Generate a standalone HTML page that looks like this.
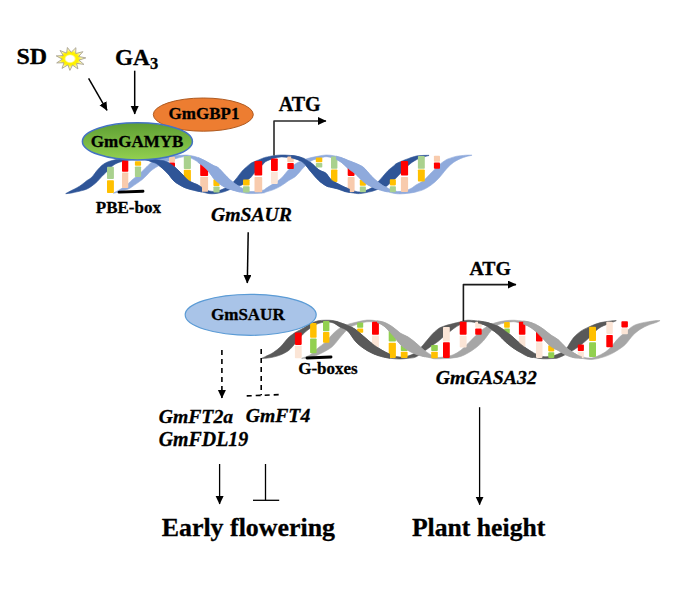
<!DOCTYPE html>
<html><head><meta charset="utf-8"><style>
html,body{margin:0;padding:0;background:#fff;}
svg{display:block;}
text{font-family:"Liberation Serif",serif;font-weight:bold;fill:#000;stroke:#000;stroke-width:0.3px;}
.i{font-style:italic;}
</style></head><body>
<svg width="684" height="604" viewBox="0 0 684 604">
<defs>
<marker id="ah" markerWidth="9" markerHeight="9" refX="8" refY="4" orient="auto" markerUnits="userSpaceOnUse">
<path d="M0,0 L8.5,4 L0,8 Z" fill="#000"/></marker>
<radialGradient id="sg" cx="0.47" cy="0.49" r="0.5"><stop offset="0.27" stop-color="#FFFFFF"/><stop offset="0.4" stop-color="#FFF200"/><stop offset="0.55" stop-color="#FFF000"/><stop offset="0.75" stop-color="#FFF89A"/><stop offset="1" stop-color="#FFFDE0"/></radialGradient>
<linearGradient id="gg" x1="0" y1="0" x2="0" y2="1"><stop offset="0" stop-color="#5E9E33"/><stop offset="1" stop-color="#92D050"/></linearGradient>
</defs>
<rect width="684" height="604" fill="#fff"/>
<path d="M65.80,193.50 C66.83,192.95 70.13,191.17 72.00,190.20 C73.87,189.23 75.33,188.65 77.00,187.70 C78.67,186.75 80.33,185.70 82.00,184.50 C83.67,183.30 85.33,181.75 87.00,180.50 C88.67,179.25 90.33,178.67 92.00,177.00 C93.67,175.33 95.33,172.45 97.00,170.50 C98.67,168.55 100.33,166.68 102.00,165.30 C103.67,163.92 105.00,163.08 107.00,162.20 C109.00,161.32 111.50,160.62 114.00,160.00 C116.50,159.38 118.50,159.07 122.00,158.50 C125.50,157.93 131.17,156.88 135.00,156.60 C138.83,156.32 142.17,156.43 145.00,156.80 C147.83,157.17 150.00,158.30 152.00,158.80 C154.00,159.30 155.00,159.47 157.00,159.80 C159.00,160.13 162.00,160.25 164.00,160.80 C166.00,161.35 167.33,162.17 169.00,163.10 C170.67,164.03 172.33,165.08 174.00,166.40 C175.67,167.72 177.33,169.40 179.00,171.00 C180.67,172.60 182.50,174.50 184.00,176.00 C185.50,177.50 186.67,178.92 188.00,180.00 C189.33,181.08 190.50,181.75 192.00,182.50 C193.50,183.25 195.33,183.68 197.00,184.50 C198.67,185.32 200.33,186.45 202.00,187.40 C203.67,188.35 205.33,189.53 207.00,190.20 C208.67,190.87 210.17,191.27 212.00,191.40 C213.83,191.53 216.00,191.47 218.00,191.00 C220.00,190.53 222.02,189.52 224.00,188.60 C225.98,187.68 227.92,187.08 229.90,185.50 C231.88,183.92 233.88,181.48 235.90,179.10 C237.92,176.72 240.28,173.18 242.00,171.20 C243.72,169.22 244.82,168.45 246.20,167.20 C247.58,165.95 248.92,164.63 250.30,163.70 C251.68,162.77 252.40,162.52 254.50,161.60 C256.60,160.68 260.98,158.93 262.90,158.20 C264.82,157.47 264.22,157.62 266.00,157.20 C267.78,156.78 271.07,156.07 273.60,155.70 C276.13,155.33 278.67,155.07 281.20,155.00 C283.73,154.93 286.33,155.12 288.80,155.30 C291.27,155.48 293.53,155.58 296.00,156.10 C298.47,156.62 301.07,157.25 303.60,158.40 C306.13,159.55 308.67,161.10 311.20,163.00 C313.73,164.90 316.33,168.08 318.80,169.80 C321.27,171.52 323.97,171.65 326.00,173.30 C328.03,174.95 329.10,178.00 331.00,179.70 C332.90,181.40 335.07,182.23 337.40,183.50 C339.73,184.77 342.57,186.22 345.00,187.30 C347.43,188.38 349.53,189.23 352.00,190.00 C354.47,190.77 356.60,192.22 359.80,191.90 C363.00,191.58 368.03,189.92 371.20,188.10 C374.37,186.28 376.33,183.55 378.80,181.00 C381.27,178.45 384.17,174.80 386.00,172.80 C387.83,170.80 388.53,170.13 389.80,169.00 C391.07,167.87 392.33,167.00 393.60,166.00 C394.87,165.00 394.87,164.27 397.40,163.00 C399.93,161.73 405.70,159.55 408.80,158.40 C411.90,157.25 413.80,156.58 416.00,156.10 C418.20,155.62 419.83,155.63 422.00,155.50 C424.17,155.37 427.83,155.33 429.00,155.30 L429.00,155.50 C427.83,155.83 424.17,156.77 422.00,157.50 C419.83,158.23 418.20,158.65 416.00,159.90 C413.80,161.15 411.90,162.20 408.80,165.00 C405.70,167.80 399.93,174.12 397.40,176.70 C394.87,179.28 394.87,179.37 393.60,180.50 C392.33,181.63 391.07,182.48 389.80,183.50 C388.53,184.52 387.83,185.68 386.00,186.60 C384.17,187.52 381.27,188.18 378.80,189.00 C376.33,189.82 374.37,190.73 371.20,191.50 C368.03,192.27 363.00,193.38 359.80,193.60 C356.60,193.82 354.47,193.15 352.00,192.80 C349.53,192.45 347.43,192.17 345.00,191.50 C342.57,190.83 339.73,189.50 337.40,188.80 C335.07,188.10 332.90,187.80 331.00,187.30 C329.10,186.80 328.03,186.93 326.00,185.80 C323.97,184.67 321.27,182.78 318.80,180.50 C316.33,178.22 313.73,175.02 311.20,172.10 C308.67,169.18 306.13,165.18 303.60,163.00 C301.07,160.82 298.47,159.90 296.00,159.00 C293.53,158.10 291.27,157.95 288.80,157.60 C286.33,157.25 283.73,156.77 281.20,156.90 C278.67,157.03 276.13,157.65 273.60,158.40 C271.07,159.15 267.78,160.40 266.00,161.40 C264.22,162.40 264.82,162.47 262.90,164.40 C260.98,166.33 256.60,170.73 254.50,173.00 C252.40,175.27 251.68,176.67 250.30,178.00 C248.92,179.33 247.58,179.83 246.20,181.00 C244.82,182.17 243.72,184.08 242.00,185.00 C240.28,185.92 237.92,185.75 235.90,186.50 C233.88,187.25 231.88,188.62 229.90,189.50 C227.92,190.38 225.98,191.18 224.00,191.80 C222.02,192.42 220.00,192.87 218.00,193.20 C216.00,193.53 213.83,193.80 212.00,193.80 C210.17,193.80 208.67,193.50 207.00,193.20 C205.33,192.90 203.67,192.37 202.00,192.00 C200.33,191.63 198.67,191.37 197.00,191.00 C195.33,190.63 193.50,190.18 192.00,189.80 C190.50,189.42 189.33,189.12 188.00,188.70 C186.67,188.28 185.50,188.00 184.00,187.30 C182.50,186.60 180.67,185.53 179.00,184.50 C177.33,183.47 175.67,182.70 174.00,181.10 C172.33,179.50 170.67,176.78 169.00,174.90 C167.33,173.02 166.00,171.62 164.00,169.80 C162.00,167.98 159.00,165.30 157.00,164.00 C155.00,162.70 154.00,162.75 152.00,162.00 C150.00,161.25 147.83,159.97 145.00,159.50 C142.17,159.03 138.83,158.87 135.00,159.20 C131.17,159.53 125.50,160.57 122.00,161.50 C118.50,162.43 116.50,163.15 114.00,164.80 C111.50,166.45 109.00,169.48 107.00,171.40 C105.00,173.32 103.67,174.57 102.00,176.30 C100.33,178.03 98.67,180.20 97.00,181.80 C95.33,183.40 93.67,184.70 92.00,185.90 C90.33,187.10 88.67,188.22 87.00,189.00 C85.33,189.78 83.67,190.13 82.00,190.60 C80.33,191.07 78.67,191.42 77.00,191.80 C75.33,192.18 73.87,192.58 72.00,192.90 C70.13,193.22 66.83,193.57 65.80,193.70Z" fill="#2F5597" stroke="#2F5597" stroke-width="0.6"/>
<path d="M113.60,193.00 C115.00,192.22 119.55,189.88 122.00,188.30 C124.45,186.72 126.63,184.88 128.30,183.50 C129.97,182.12 130.55,181.25 132.00,180.00 C133.45,178.75 135.33,177.43 137.00,176.00 C138.67,174.57 140.33,172.98 142.00,171.40 C143.67,169.82 145.33,168.08 147.00,166.50 C148.67,164.92 149.83,163.23 152.00,161.90 C154.17,160.57 157.00,159.48 160.00,158.50 C163.00,157.52 166.33,156.53 170.00,156.00 C173.67,155.47 179.00,155.43 182.00,155.30 C185.00,155.17 186.00,155.03 188.00,155.20 C190.00,155.37 192.17,155.85 194.00,156.30 C195.83,156.75 197.33,157.25 199.00,157.90 C200.67,158.55 202.33,159.35 204.00,160.20 C205.67,161.05 207.33,162.07 209.00,163.00 C210.67,163.93 212.50,165.03 214.00,165.80 C215.50,166.57 216.33,166.28 218.00,167.60 C219.67,168.92 222.02,171.68 224.00,173.70 C225.98,175.72 227.92,177.92 229.90,179.70 C231.88,181.48 233.88,183.02 235.90,184.40 C237.92,185.78 239.65,186.82 242.00,188.00 C244.35,189.18 246.52,191.13 250.00,191.50 C253.48,191.87 260.23,190.73 262.90,190.20 C265.57,189.67 264.22,189.42 266.00,188.30 C267.78,187.18 271.07,185.18 273.60,183.50 C276.13,181.82 278.67,180.53 281.20,178.20 C283.73,175.87 286.33,171.95 288.80,169.50 C291.27,167.05 293.53,165.10 296.00,163.50 C298.47,161.90 301.07,160.88 303.60,159.90 C306.13,158.92 308.67,158.23 311.20,157.60 C313.73,156.97 316.33,156.53 318.80,156.10 C321.27,155.67 323.53,155.07 326.00,155.00 C328.47,154.93 331.07,155.27 333.60,155.70 C336.13,156.13 338.67,156.77 341.20,157.60 C343.73,158.43 346.33,159.72 348.80,160.70 C351.27,161.68 353.53,162.37 356.00,163.50 C358.47,164.63 361.07,165.43 363.60,167.50 C366.13,169.57 368.67,173.37 371.20,175.90 C373.73,178.43 376.33,180.80 378.80,182.70 C381.27,184.60 382.90,185.83 386.00,187.30 C389.10,188.77 393.60,191.13 397.40,191.50 C401.20,191.87 405.70,190.58 408.80,189.50 C411.90,188.42 413.53,186.50 416.00,185.00 C418.47,183.50 421.07,182.53 423.60,180.50 C426.13,178.47 428.67,175.35 431.20,172.80 C433.73,170.25 436.33,167.35 438.80,165.20 C441.27,163.05 443.97,161.12 446.00,159.90 C448.03,158.68 449.35,158.48 451.00,157.90 C452.65,157.32 454.25,156.77 455.90,156.40 C457.55,156.03 459.23,155.90 460.90,155.70 C462.57,155.50 464.08,155.30 465.90,155.20 C467.72,155.10 470.82,155.12 471.80,155.10 L471.80,155.30 C470.82,155.53 467.72,156.18 465.90,156.70 C464.08,157.22 462.57,157.70 460.90,158.40 C459.23,159.10 457.55,159.90 455.90,160.90 C454.25,161.90 452.65,162.97 451.00,164.40 C449.35,165.83 448.03,167.20 446.00,169.50 C443.97,171.80 441.27,175.62 438.80,178.20 C436.33,180.78 433.73,183.10 431.20,185.00 C428.67,186.90 426.13,188.45 423.60,189.60 C421.07,190.75 418.47,191.30 416.00,191.90 C413.53,192.50 411.90,192.88 408.80,193.20 C405.70,193.52 401.20,194.08 397.40,193.80 C393.60,193.52 389.10,192.20 386.00,191.50 C382.90,190.80 381.27,190.42 378.80,189.60 C376.33,188.78 373.73,187.87 371.20,186.60 C368.67,185.33 366.13,184.03 363.60,182.00 C361.07,179.97 358.47,176.57 356.00,174.40 C353.53,172.23 351.27,171.03 348.80,169.00 C346.33,166.97 343.73,163.97 341.20,162.20 C338.67,160.43 336.13,159.32 333.60,158.40 C331.07,157.48 328.47,156.68 326.00,156.70 C323.53,156.72 321.27,157.80 318.80,158.50 C316.33,159.20 313.73,159.40 311.20,160.90 C308.67,162.40 306.13,164.98 303.60,167.50 C301.07,170.02 298.47,173.83 296.00,176.00 C293.53,178.17 291.27,178.87 288.80,180.50 C286.33,182.13 283.73,184.28 281.20,185.80 C278.67,187.32 276.13,188.57 273.60,189.60 C271.07,190.63 267.78,191.43 266.00,192.00 C264.22,192.57 265.57,192.73 262.90,193.00 C260.23,193.27 253.48,193.68 250.00,193.60 C246.52,193.52 244.35,192.93 242.00,192.50 C239.65,192.07 237.92,191.55 235.90,191.00 C233.88,190.45 231.88,189.90 229.90,189.20 C227.92,188.50 225.98,187.90 224.00,186.80 C222.02,185.70 219.67,183.93 218.00,182.60 C216.33,181.27 215.50,180.57 214.00,178.80 C212.50,177.03 210.67,173.97 209.00,172.00 C207.33,170.03 205.67,168.50 204.00,167.00 C202.33,165.50 200.67,164.23 199.00,163.00 C197.33,161.77 195.83,160.60 194.00,159.60 C192.17,158.60 190.00,157.43 188.00,157.00 C186.00,156.57 185.00,156.42 182.00,157.00 C179.00,157.58 173.67,159.17 170.00,160.50 C166.33,161.83 163.00,163.42 160.00,165.00 C157.00,166.58 154.17,168.33 152.00,170.00 C149.83,171.67 148.67,173.38 147.00,175.00 C145.33,176.62 143.67,178.32 142.00,179.70 C140.33,181.08 138.67,182.12 137.00,183.30 C135.33,184.48 133.45,185.85 132.00,186.80 C130.55,187.75 129.97,188.30 128.30,189.00 C126.63,189.70 124.45,190.28 122.00,191.00 C119.55,191.72 115.00,192.92 113.60,193.30Z" fill="#8FAADC" stroke="#8FAADC" stroke-width="0.6"/>
<rect x="107.0" y="166.8" width="6.9" height="12.2" rx="0.8" fill="#A9D18E"/>
<rect x="107.0" y="180.2" width="6.9" height="12.8" rx="0.8" fill="#FFC000"/>
<rect x="122.0" y="160.6" width="6.3" height="11.1" rx="0.8" fill="#FF0000"/>
<rect x="122.0" y="172.4" width="6.3" height="15.7" rx="0.8" fill="#F8CBAD"/>
<rect x="134.9" y="161.3" width="6.2" height="4.5" rx="0.8" fill="#FFC000"/>
<rect x="134.9" y="166.5" width="6.2" height="10.5" rx="0.8" fill="#A9D18E"/>
<rect x="169.0" y="156.8" width="6.0" height="5.2" rx="0.8" fill="#F8CBAD"/>
<rect x="169.0" y="162.4" width="6.0" height="4.6" rx="0.8" fill="#FF0000"/>
<rect x="183.8" y="155.9" width="7.1" height="13.1" rx="0.8" fill="#A9D18E"/>
<rect x="183.8" y="169.7" width="7.1" height="12.0" rx="0.8" fill="#FFC000"/>
<rect x="200.2" y="163.9" width="7.9" height="12.1" rx="0.8" fill="#FF0000"/>
<rect x="200.2" y="176.8" width="7.9" height="15.0" rx="0.8" fill="#F8CBAD"/>
<rect x="213.4" y="179.2" width="6.2" height="6.8" rx="0.8" fill="#FFC000"/>
<rect x="213.4" y="186.4" width="6.2" height="6.1" rx="0.8" fill="#A9D18E"/>
<rect x="243.0" y="179.4" width="6.6" height="6.2" rx="0.8" fill="#FFC000"/>
<rect x="243.0" y="186.3" width="6.6" height="6.3" rx="0.8" fill="#A9D18E"/>
<rect x="254.5" y="161.0" width="7.7" height="14.6" rx="0.8" fill="#FF0000"/>
<rect x="254.5" y="177.0" width="7.7" height="15.2" rx="0.8" fill="#F8CBAD"/>
<rect x="271.0" y="158.4" width="6.8" height="12.5" rx="0.8" fill="#FF0000"/>
<rect x="271.0" y="171.7" width="6.8" height="12.2" rx="0.8" fill="#FBE5D6"/>
<rect x="287.3" y="156.5" width="6.5" height="5.7" rx="0.8" fill="#F8CBAD"/>
<rect x="287.3" y="163.0" width="6.5" height="6.0" rx="0.8" fill="#FF0000"/>
<rect x="315.8" y="157.6" width="6.5" height="4.6" rx="0.8" fill="#FFC000"/>
<rect x="315.8" y="163.0" width="6.5" height="4.5" rx="0.8" fill="#A9D18E"/>
<rect x="331.0" y="156.5" width="6.4" height="12.2" rx="0.8" fill="#A9D18E"/>
<rect x="331.0" y="169.4" width="6.4" height="12.6" rx="0.8" fill="#FFC000"/>
<rect x="347.7" y="164.9" width="6.9" height="11.0" rx="0.8" fill="#FF0000"/>
<rect x="347.7" y="177.0" width="6.9" height="14.9" rx="0.8" fill="#F8CBAD"/>
<rect x="359.8" y="179.7" width="6.1" height="6.1" rx="0.8" fill="#FFC000"/>
<rect x="359.8" y="186.6" width="6.1" height="5.7" rx="0.8" fill="#A9D18E"/>
<rect x="389.8" y="179.3" width="6.1" height="6.1" rx="0.8" fill="#FFC000"/>
<rect x="389.8" y="186.2" width="6.1" height="6.1" rx="0.8" fill="#A9D18E"/>
<rect x="400.9" y="161.0" width="7.2" height="14.5" rx="0.8" fill="#FF0000"/>
<rect x="400.9" y="177.0" width="7.2" height="14.9" rx="0.8" fill="#F8CBAD"/>
<rect x="417.9" y="156.1" width="6.9" height="12.6" rx="0.8" fill="#A9D18E"/>
<rect x="417.9" y="169.4" width="6.9" height="12.2" rx="0.8" fill="#FFC000"/>
<rect x="433.9" y="155.7" width="6.1" height="6.1" rx="0.8" fill="#F8CBAD"/>
<rect x="433.9" y="162.6" width="6.1" height="6.1" rx="0.8" fill="#FF0000"/>
<clipPath id="c1"><rect x="145.0" y="0" width="57.0" height="604"/><rect x="291.2" y="0" width="58.6" height="604"/></clipPath><path d="M65.80,193.50 C66.83,192.95 70.13,191.17 72.00,190.20 C73.87,189.23 75.33,188.65 77.00,187.70 C78.67,186.75 80.33,185.70 82.00,184.50 C83.67,183.30 85.33,181.75 87.00,180.50 C88.67,179.25 90.33,178.67 92.00,177.00 C93.67,175.33 95.33,172.45 97.00,170.50 C98.67,168.55 100.33,166.68 102.00,165.30 C103.67,163.92 105.00,163.08 107.00,162.20 C109.00,161.32 111.50,160.62 114.00,160.00 C116.50,159.38 118.50,159.07 122.00,158.50 C125.50,157.93 131.17,156.88 135.00,156.60 C138.83,156.32 142.17,156.43 145.00,156.80 C147.83,157.17 150.00,158.30 152.00,158.80 C154.00,159.30 155.00,159.47 157.00,159.80 C159.00,160.13 162.00,160.25 164.00,160.80 C166.00,161.35 167.33,162.17 169.00,163.10 C170.67,164.03 172.33,165.08 174.00,166.40 C175.67,167.72 177.33,169.40 179.00,171.00 C180.67,172.60 182.50,174.50 184.00,176.00 C185.50,177.50 186.67,178.92 188.00,180.00 C189.33,181.08 190.50,181.75 192.00,182.50 C193.50,183.25 195.33,183.68 197.00,184.50 C198.67,185.32 200.33,186.45 202.00,187.40 C203.67,188.35 205.33,189.53 207.00,190.20 C208.67,190.87 210.17,191.27 212.00,191.40 C213.83,191.53 216.00,191.47 218.00,191.00 C220.00,190.53 222.02,189.52 224.00,188.60 C225.98,187.68 227.92,187.08 229.90,185.50 C231.88,183.92 233.88,181.48 235.90,179.10 C237.92,176.72 240.28,173.18 242.00,171.20 C243.72,169.22 244.82,168.45 246.20,167.20 C247.58,165.95 248.92,164.63 250.30,163.70 C251.68,162.77 252.40,162.52 254.50,161.60 C256.60,160.68 260.98,158.93 262.90,158.20 C264.82,157.47 264.22,157.62 266.00,157.20 C267.78,156.78 271.07,156.07 273.60,155.70 C276.13,155.33 278.67,155.07 281.20,155.00 C283.73,154.93 286.33,155.12 288.80,155.30 C291.27,155.48 293.53,155.58 296.00,156.10 C298.47,156.62 301.07,157.25 303.60,158.40 C306.13,159.55 308.67,161.10 311.20,163.00 C313.73,164.90 316.33,168.08 318.80,169.80 C321.27,171.52 323.97,171.65 326.00,173.30 C328.03,174.95 329.10,178.00 331.00,179.70 C332.90,181.40 335.07,182.23 337.40,183.50 C339.73,184.77 342.57,186.22 345.00,187.30 C347.43,188.38 349.53,189.23 352.00,190.00 C354.47,190.77 356.60,192.22 359.80,191.90 C363.00,191.58 368.03,189.92 371.20,188.10 C374.37,186.28 376.33,183.55 378.80,181.00 C381.27,178.45 384.17,174.80 386.00,172.80 C387.83,170.80 388.53,170.13 389.80,169.00 C391.07,167.87 392.33,167.00 393.60,166.00 C394.87,165.00 394.87,164.27 397.40,163.00 C399.93,161.73 405.70,159.55 408.80,158.40 C411.90,157.25 413.80,156.58 416.00,156.10 C418.20,155.62 419.83,155.63 422.00,155.50 C424.17,155.37 427.83,155.33 429.00,155.30 L429.00,155.50 C427.83,155.83 424.17,156.77 422.00,157.50 C419.83,158.23 418.20,158.65 416.00,159.90 C413.80,161.15 411.90,162.20 408.80,165.00 C405.70,167.80 399.93,174.12 397.40,176.70 C394.87,179.28 394.87,179.37 393.60,180.50 C392.33,181.63 391.07,182.48 389.80,183.50 C388.53,184.52 387.83,185.68 386.00,186.60 C384.17,187.52 381.27,188.18 378.80,189.00 C376.33,189.82 374.37,190.73 371.20,191.50 C368.03,192.27 363.00,193.38 359.80,193.60 C356.60,193.82 354.47,193.15 352.00,192.80 C349.53,192.45 347.43,192.17 345.00,191.50 C342.57,190.83 339.73,189.50 337.40,188.80 C335.07,188.10 332.90,187.80 331.00,187.30 C329.10,186.80 328.03,186.93 326.00,185.80 C323.97,184.67 321.27,182.78 318.80,180.50 C316.33,178.22 313.73,175.02 311.20,172.10 C308.67,169.18 306.13,165.18 303.60,163.00 C301.07,160.82 298.47,159.90 296.00,159.00 C293.53,158.10 291.27,157.95 288.80,157.60 C286.33,157.25 283.73,156.77 281.20,156.90 C278.67,157.03 276.13,157.65 273.60,158.40 C271.07,159.15 267.78,160.40 266.00,161.40 C264.22,162.40 264.82,162.47 262.90,164.40 C260.98,166.33 256.60,170.73 254.50,173.00 C252.40,175.27 251.68,176.67 250.30,178.00 C248.92,179.33 247.58,179.83 246.20,181.00 C244.82,182.17 243.72,184.08 242.00,185.00 C240.28,185.92 237.92,185.75 235.90,186.50 C233.88,187.25 231.88,188.62 229.90,189.50 C227.92,190.38 225.98,191.18 224.00,191.80 C222.02,192.42 220.00,192.87 218.00,193.20 C216.00,193.53 213.83,193.80 212.00,193.80 C210.17,193.80 208.67,193.50 207.00,193.20 C205.33,192.90 203.67,192.37 202.00,192.00 C200.33,191.63 198.67,191.37 197.00,191.00 C195.33,190.63 193.50,190.18 192.00,189.80 C190.50,189.42 189.33,189.12 188.00,188.70 C186.67,188.28 185.50,188.00 184.00,187.30 C182.50,186.60 180.67,185.53 179.00,184.50 C177.33,183.47 175.67,182.70 174.00,181.10 C172.33,179.50 170.67,176.78 169.00,174.90 C167.33,173.02 166.00,171.62 164.00,169.80 C162.00,167.98 159.00,165.30 157.00,164.00 C155.00,162.70 154.00,162.75 152.00,162.00 C150.00,161.25 147.83,159.97 145.00,159.50 C142.17,159.03 138.83,158.87 135.00,159.20 C131.17,159.53 125.50,160.57 122.00,161.50 C118.50,162.43 116.50,163.15 114.00,164.80 C111.50,166.45 109.00,169.48 107.00,171.40 C105.00,173.32 103.67,174.57 102.00,176.30 C100.33,178.03 98.67,180.20 97.00,181.80 C95.33,183.40 93.67,184.70 92.00,185.90 C90.33,187.10 88.67,188.22 87.00,189.00 C85.33,189.78 83.67,190.13 82.00,190.60 C80.33,191.07 78.67,191.42 77.00,191.80 C75.33,192.18 73.87,192.58 72.00,192.90 C70.13,193.22 66.83,193.57 65.80,193.70Z" fill="#2F5597" stroke="#2F5597" stroke-width="0.6" clip-path="url(#c1)"/>
<clipPath id="c2"><rect x="198.0" y="0" width="42.0" height="604"/><rect x="336.0" y="0" width="51.4" height="604"/></clipPath><path d="M113.60,193.00 C115.00,192.22 119.55,189.88 122.00,188.30 C124.45,186.72 126.63,184.88 128.30,183.50 C129.97,182.12 130.55,181.25 132.00,180.00 C133.45,178.75 135.33,177.43 137.00,176.00 C138.67,174.57 140.33,172.98 142.00,171.40 C143.67,169.82 145.33,168.08 147.00,166.50 C148.67,164.92 149.83,163.23 152.00,161.90 C154.17,160.57 157.00,159.48 160.00,158.50 C163.00,157.52 166.33,156.53 170.00,156.00 C173.67,155.47 179.00,155.43 182.00,155.30 C185.00,155.17 186.00,155.03 188.00,155.20 C190.00,155.37 192.17,155.85 194.00,156.30 C195.83,156.75 197.33,157.25 199.00,157.90 C200.67,158.55 202.33,159.35 204.00,160.20 C205.67,161.05 207.33,162.07 209.00,163.00 C210.67,163.93 212.50,165.03 214.00,165.80 C215.50,166.57 216.33,166.28 218.00,167.60 C219.67,168.92 222.02,171.68 224.00,173.70 C225.98,175.72 227.92,177.92 229.90,179.70 C231.88,181.48 233.88,183.02 235.90,184.40 C237.92,185.78 239.65,186.82 242.00,188.00 C244.35,189.18 246.52,191.13 250.00,191.50 C253.48,191.87 260.23,190.73 262.90,190.20 C265.57,189.67 264.22,189.42 266.00,188.30 C267.78,187.18 271.07,185.18 273.60,183.50 C276.13,181.82 278.67,180.53 281.20,178.20 C283.73,175.87 286.33,171.95 288.80,169.50 C291.27,167.05 293.53,165.10 296.00,163.50 C298.47,161.90 301.07,160.88 303.60,159.90 C306.13,158.92 308.67,158.23 311.20,157.60 C313.73,156.97 316.33,156.53 318.80,156.10 C321.27,155.67 323.53,155.07 326.00,155.00 C328.47,154.93 331.07,155.27 333.60,155.70 C336.13,156.13 338.67,156.77 341.20,157.60 C343.73,158.43 346.33,159.72 348.80,160.70 C351.27,161.68 353.53,162.37 356.00,163.50 C358.47,164.63 361.07,165.43 363.60,167.50 C366.13,169.57 368.67,173.37 371.20,175.90 C373.73,178.43 376.33,180.80 378.80,182.70 C381.27,184.60 382.90,185.83 386.00,187.30 C389.10,188.77 393.60,191.13 397.40,191.50 C401.20,191.87 405.70,190.58 408.80,189.50 C411.90,188.42 413.53,186.50 416.00,185.00 C418.47,183.50 421.07,182.53 423.60,180.50 C426.13,178.47 428.67,175.35 431.20,172.80 C433.73,170.25 436.33,167.35 438.80,165.20 C441.27,163.05 443.97,161.12 446.00,159.90 C448.03,158.68 449.35,158.48 451.00,157.90 C452.65,157.32 454.25,156.77 455.90,156.40 C457.55,156.03 459.23,155.90 460.90,155.70 C462.57,155.50 464.08,155.30 465.90,155.20 C467.72,155.10 470.82,155.12 471.80,155.10 L471.80,155.30 C470.82,155.53 467.72,156.18 465.90,156.70 C464.08,157.22 462.57,157.70 460.90,158.40 C459.23,159.10 457.55,159.90 455.90,160.90 C454.25,161.90 452.65,162.97 451.00,164.40 C449.35,165.83 448.03,167.20 446.00,169.50 C443.97,171.80 441.27,175.62 438.80,178.20 C436.33,180.78 433.73,183.10 431.20,185.00 C428.67,186.90 426.13,188.45 423.60,189.60 C421.07,190.75 418.47,191.30 416.00,191.90 C413.53,192.50 411.90,192.88 408.80,193.20 C405.70,193.52 401.20,194.08 397.40,193.80 C393.60,193.52 389.10,192.20 386.00,191.50 C382.90,190.80 381.27,190.42 378.80,189.60 C376.33,188.78 373.73,187.87 371.20,186.60 C368.67,185.33 366.13,184.03 363.60,182.00 C361.07,179.97 358.47,176.57 356.00,174.40 C353.53,172.23 351.27,171.03 348.80,169.00 C346.33,166.97 343.73,163.97 341.20,162.20 C338.67,160.43 336.13,159.32 333.60,158.40 C331.07,157.48 328.47,156.68 326.00,156.70 C323.53,156.72 321.27,157.80 318.80,158.50 C316.33,159.20 313.73,159.40 311.20,160.90 C308.67,162.40 306.13,164.98 303.60,167.50 C301.07,170.02 298.47,173.83 296.00,176.00 C293.53,178.17 291.27,178.87 288.80,180.50 C286.33,182.13 283.73,184.28 281.20,185.80 C278.67,187.32 276.13,188.57 273.60,189.60 C271.07,190.63 267.78,191.43 266.00,192.00 C264.22,192.57 265.57,192.73 262.90,193.00 C260.23,193.27 253.48,193.68 250.00,193.60 C246.52,193.52 244.35,192.93 242.00,192.50 C239.65,192.07 237.92,191.55 235.90,191.00 C233.88,190.45 231.88,189.90 229.90,189.20 C227.92,188.50 225.98,187.90 224.00,186.80 C222.02,185.70 219.67,183.93 218.00,182.60 C216.33,181.27 215.50,180.57 214.00,178.80 C212.50,177.03 210.67,173.97 209.00,172.00 C207.33,170.03 205.67,168.50 204.00,167.00 C202.33,165.50 200.67,164.23 199.00,163.00 C197.33,161.77 195.83,160.60 194.00,159.60 C192.17,158.60 190.00,157.43 188.00,157.00 C186.00,156.57 185.00,156.42 182.00,157.00 C179.00,157.58 173.67,159.17 170.00,160.50 C166.33,161.83 163.00,163.42 160.00,165.00 C157.00,166.58 154.17,168.33 152.00,170.00 C149.83,171.67 148.67,173.38 147.00,175.00 C145.33,176.62 143.67,178.32 142.00,179.70 C140.33,181.08 138.67,182.12 137.00,183.30 C135.33,184.48 133.45,185.85 132.00,186.80 C130.55,187.75 129.97,188.30 128.30,189.00 C126.63,189.70 124.45,190.28 122.00,191.00 C119.55,191.72 115.00,192.92 113.60,193.30Z" fill="#8FAADC" stroke="#8FAADC" stroke-width="0.6" clip-path="url(#c2)"/>
<path d="M261.80,358.20 C262.43,357.90 263.70,357.33 265.60,356.40 C267.50,355.47 270.67,354.25 273.20,352.60 C275.73,350.95 278.33,348.92 280.80,346.50 C283.27,344.08 286.03,340.13 288.00,338.10 C289.97,336.07 291.10,335.40 292.60,334.30 C294.10,333.20 295.23,332.52 297.00,331.50 C298.77,330.48 301.40,329.27 303.20,328.20 C305.00,327.13 306.33,325.97 307.80,325.10 C309.27,324.23 310.30,323.72 312.00,323.00 C313.70,322.28 315.73,321.27 318.00,320.80 C320.27,320.33 323.07,320.23 325.60,320.20 C328.13,320.17 330.67,320.15 333.20,320.60 C335.73,321.05 338.33,322.07 340.80,322.90 C343.27,323.73 345.53,324.50 348.00,325.60 C350.47,326.70 353.07,327.77 355.60,329.50 C358.13,331.23 360.67,333.83 363.20,336.00 C365.73,338.17 368.33,340.53 370.80,342.50 C373.27,344.47 375.53,346.18 378.00,347.80 C380.47,349.42 383.07,350.92 385.60,352.20 C388.13,353.48 390.80,354.70 393.20,355.50 C395.60,356.30 397.53,356.92 400.00,357.00 C402.47,357.08 405.40,356.73 408.00,356.00 C410.60,355.27 413.07,354.45 415.60,352.60 C418.13,350.75 420.67,347.70 423.20,344.90 C425.73,342.10 428.33,338.45 430.80,335.80 C433.27,333.15 435.63,330.67 438.00,329.00 C440.37,327.33 442.47,326.70 445.00,325.80 C447.53,324.90 450.82,324.22 453.20,323.60 C455.58,322.98 456.83,322.67 459.30,322.10 C461.77,321.53 464.02,320.27 468.00,320.20 C471.98,320.13 479.40,321.13 483.20,321.70 C487.00,322.27 488.33,322.83 490.80,323.60 C493.27,324.37 495.53,325.03 498.00,326.30 C500.47,327.57 503.07,329.37 505.60,331.20 C508.13,333.03 510.67,335.13 513.20,337.30 C515.73,339.47 518.33,342.17 520.80,344.20 C523.27,346.23 525.63,347.95 528.00,349.50 C530.37,351.05 532.50,352.33 535.00,353.50 C537.50,354.67 540.33,356.03 543.00,356.50 C545.67,356.97 548.50,356.70 551.00,356.30 C553.50,355.90 555.57,355.23 558.00,354.10 C560.43,352.97 563.07,352.17 565.60,349.50 C568.13,346.83 570.67,341.15 573.20,338.10 C575.73,335.05 578.33,332.98 580.80,331.20 C583.27,329.42 585.28,328.67 588.00,327.40 C590.72,326.13 594.57,324.48 597.10,323.60 C599.63,322.72 600.92,322.53 603.20,322.10 C605.48,321.67 608.63,321.25 610.80,321.00 C612.97,320.75 615.30,320.67 616.20,320.60 L616.20,320.80 C615.30,321.15 612.97,322.05 610.80,322.90 C608.63,323.75 605.48,324.77 603.20,325.90 C600.92,327.03 599.63,327.55 597.10,329.70 C594.57,331.85 590.72,336.27 588.00,338.80 C585.28,341.33 583.27,342.98 580.80,344.90 C578.33,346.82 575.73,348.70 573.20,350.30 C570.67,351.90 568.13,353.23 565.60,354.50 C563.07,355.77 560.43,357.22 558.00,357.90 C555.57,358.58 553.50,358.45 551.00,358.60 C548.50,358.75 545.67,358.95 543.00,358.80 C540.33,358.65 537.50,358.10 535.00,357.70 C532.50,357.30 530.37,357.25 528.00,356.40 C525.63,355.55 523.27,354.00 520.80,352.60 C518.33,351.20 515.73,349.78 513.20,348.00 C510.67,346.22 508.13,344.18 505.60,341.90 C503.07,339.62 500.47,336.47 498.00,334.30 C495.53,332.13 493.27,330.55 490.80,328.90 C488.33,327.25 487.00,325.60 483.20,324.40 C479.40,323.20 471.98,321.58 468.00,321.70 C464.02,321.82 461.77,323.90 459.30,325.10 C456.83,326.30 455.58,327.17 453.20,328.90 C450.82,330.63 447.53,333.40 445.00,335.50 C442.47,337.60 440.37,339.67 438.00,341.50 C435.63,343.33 433.27,344.75 430.80,346.50 C428.33,348.25 425.73,350.23 423.20,352.00 C420.67,353.77 418.13,356.05 415.60,357.10 C413.07,358.15 410.60,357.98 408.00,358.30 C405.40,358.62 402.47,358.95 400.00,359.00 C397.53,359.05 395.60,358.85 393.20,358.60 C390.80,358.35 388.13,358.02 385.60,357.50 C383.07,356.98 380.47,356.33 378.00,355.50 C375.53,354.67 373.27,353.75 370.80,352.50 C368.33,351.25 365.73,349.83 363.20,348.00 C360.67,346.17 358.13,344.30 355.60,341.50 C353.07,338.70 350.47,333.55 348.00,331.20 C345.53,328.85 343.27,328.78 340.80,327.40 C338.33,326.02 335.73,323.78 333.20,322.90 C330.67,322.02 328.13,321.98 325.60,322.10 C323.07,322.22 320.27,322.78 318.00,323.60 C315.73,324.42 313.70,325.93 312.00,327.00 C310.30,328.07 309.27,328.83 307.80,330.00 C306.33,331.17 305.00,332.17 303.20,334.00 C301.40,335.83 298.77,338.92 297.00,341.00 C295.23,343.08 294.10,344.83 292.60,346.50 C291.10,348.17 289.97,349.62 288.00,351.00 C286.03,352.38 283.27,353.78 280.80,354.80 C278.33,355.82 275.73,356.52 273.20,357.10 C270.67,357.68 267.50,358.08 265.60,358.30 C263.70,358.52 262.43,358.38 261.80,358.40Z" fill="#595959" stroke="#595959" stroke-width="0.6"/>
<path d="M301.70,358.20 C303.08,357.67 307.28,356.70 310.00,355.00 C312.72,353.30 315.40,350.18 318.00,348.00 C320.60,345.82 323.07,344.32 325.60,341.90 C328.13,339.48 330.67,335.92 333.20,333.50 C335.73,331.08 338.33,328.92 340.80,327.40 C343.27,325.88 345.63,325.22 348.00,324.40 C350.37,323.58 351.83,323.22 355.00,322.50 C358.17,321.78 363.17,320.35 367.00,320.10 C370.83,319.85 374.90,320.53 378.00,321.00 C381.10,321.47 383.07,321.83 385.60,322.90 C388.13,323.97 390.67,325.63 393.20,327.40 C395.73,329.17 398.33,331.90 400.80,333.50 C403.27,335.10 405.53,335.47 408.00,337.00 C410.47,338.53 413.07,340.62 415.60,342.70 C418.13,344.78 420.67,347.48 423.20,349.50 C425.73,351.52 428.88,353.47 430.80,354.80 C432.72,356.13 432.33,357.17 434.70,357.50 C437.07,357.83 441.92,357.25 445.00,356.80 C448.08,356.35 450.57,355.88 453.20,354.80 C455.83,353.72 458.33,352.18 460.80,350.30 C463.27,348.42 465.53,345.92 468.00,343.50 C470.47,341.08 473.07,338.22 475.60,335.80 C478.13,333.38 480.67,330.90 483.20,329.00 C485.73,327.10 488.33,325.55 490.80,324.40 C493.27,323.25 495.63,322.70 498.00,322.10 C500.37,321.50 502.47,321.12 505.00,320.80 C507.53,320.48 510.70,320.20 513.20,320.20 C515.70,320.20 517.53,320.55 520.00,320.80 C522.47,321.05 525.40,321.10 528.00,321.70 C530.60,322.30 533.07,323.18 535.60,324.40 C538.13,325.62 540.67,327.23 543.20,329.00 C545.73,330.77 548.33,333.23 550.80,335.00 C553.27,336.77 555.53,337.57 558.00,339.60 C560.47,341.63 563.07,345.03 565.60,347.20 C568.13,349.37 570.67,351.07 573.20,352.60 C575.73,354.13 577.70,355.50 580.80,356.40 C583.90,357.30 588.07,358.52 591.80,358.00 C595.53,357.48 600.03,355.10 603.20,353.30 C606.37,351.50 608.33,349.67 610.80,347.20 C613.27,344.73 615.53,341.03 618.00,338.50 C620.47,335.97 623.07,334.10 625.60,332.00 C628.13,329.90 630.67,327.37 633.20,325.90 C635.73,324.43 638.25,323.90 640.80,323.20 C643.35,322.50 645.95,322.13 648.50,321.70 C651.05,321.27 654.20,320.78 656.10,320.60 C658.00,320.42 659.27,320.60 659.90,320.60 L659.90,320.80 C659.27,321.08 658.00,321.78 656.10,322.50 C654.20,323.22 651.05,324.03 648.50,325.10 C645.95,326.17 643.35,327.25 640.80,328.90 C638.25,330.55 635.73,332.45 633.20,335.00 C630.67,337.55 628.13,341.70 625.60,344.20 C623.07,346.70 620.47,348.35 618.00,350.00 C615.53,351.65 613.27,352.92 610.80,354.10 C608.33,355.28 606.37,356.20 603.20,357.10 C600.03,358.00 595.53,359.30 591.80,359.50 C588.07,359.70 583.90,358.63 580.80,358.30 C577.70,357.97 575.73,358.08 573.20,357.50 C570.67,356.92 568.13,356.00 565.60,354.80 C563.07,353.60 560.47,351.68 558.00,350.30 C555.53,348.92 553.27,348.42 550.80,346.50 C548.33,344.58 545.73,341.35 543.20,338.80 C540.67,336.25 538.13,333.35 535.60,331.20 C533.07,329.05 530.60,327.27 528.00,325.90 C525.40,324.53 522.47,323.70 520.00,323.00 C517.53,322.30 515.70,321.73 513.20,321.70 C510.70,321.67 507.53,322.23 505.00,322.80 C502.47,323.37 500.37,323.70 498.00,325.10 C495.63,326.50 493.27,328.53 490.80,331.20 C488.33,333.87 485.73,338.30 483.20,341.10 C480.67,343.90 478.13,346.02 475.60,348.00 C473.07,349.98 470.47,351.60 468.00,353.00 C465.53,354.40 463.27,355.58 460.80,356.40 C458.33,357.22 455.83,357.53 453.20,357.90 C450.57,358.27 448.08,358.45 445.00,358.60 C441.92,358.75 437.07,358.92 434.70,358.80 C432.33,358.68 432.72,358.30 430.80,357.90 C428.88,357.50 425.73,357.03 423.20,356.40 C420.67,355.77 418.13,355.12 415.60,354.10 C413.07,353.08 410.47,351.83 408.00,350.30 C405.53,348.77 403.27,347.32 400.80,344.90 C398.33,342.48 395.73,338.72 393.20,335.80 C390.67,332.88 388.13,329.55 385.60,327.40 C383.07,325.25 381.10,323.83 378.00,322.90 C374.90,321.97 370.83,321.43 367.00,321.80 C363.17,322.17 358.17,323.92 355.00,325.10 C351.83,326.28 350.37,326.98 348.00,328.90 C345.63,330.82 343.27,333.80 340.80,336.60 C338.33,339.40 335.73,343.30 333.20,345.70 C330.67,348.10 328.13,349.48 325.60,351.00 C323.07,352.52 320.60,353.67 318.00,354.80 C315.40,355.93 312.72,357.20 310.00,357.80 C307.28,358.40 303.08,358.30 301.70,358.40Z" fill="#A6A6A6" stroke="#A6A6A6" stroke-width="0.6"/>
<rect x="294.9" y="332.4" width="6.8" height="12.5" rx="0.8" fill="#FF0000"/>
<rect x="294.9" y="345.7" width="6.8" height="12.6" rx="0.8" fill="#FBE5D6"/>
<rect x="310.1" y="322.9" width="6.5" height="14.8" rx="0.8" fill="#FFC000"/>
<rect x="310.1" y="338.5" width="6.5" height="14.8" rx="0.8" fill="#92D050"/>
<rect x="323.0" y="321.0" width="6.4" height="10.2" rx="0.8" fill="#92D050"/>
<rect x="323.0" y="332.0" width="6.4" height="10.7" rx="0.8" fill="#FFC000"/>
<rect x="357.1" y="322.5" width="6.1" height="5.3" rx="0.8" fill="#92D050"/>
<rect x="357.1" y="328.6" width="6.1" height="4.2" rx="0.8" fill="#FFC000"/>
<rect x="372.0" y="321.7" width="6.9" height="13.0" rx="0.8" fill="#FF0000"/>
<rect x="372.0" y="335.4" width="6.9" height="11.8" rx="0.8" fill="#FBE5D6"/>
<rect x="388.7" y="329.7" width="7.2" height="11.8" rx="0.8" fill="#92D050"/>
<rect x="388.7" y="342.7" width="7.2" height="15.2" rx="0.8" fill="#FFC000"/>
<rect x="400.8" y="344.9" width="6.8" height="6.1" rx="0.8" fill="#92D050"/>
<rect x="400.8" y="351.8" width="6.8" height="6.1" rx="0.8" fill="#FFC000"/>
<rect x="431.2" y="344.9" width="6.6" height="6.1" rx="0.8" fill="#92D050"/>
<rect x="431.2" y="351.8" width="6.6" height="6.5" rx="0.8" fill="#FFC000"/>
<rect x="443.0" y="327.0" width="6.8" height="14.5" rx="0.8" fill="#FBE5D6"/>
<rect x="443.0" y="342.3" width="6.8" height="15.6" rx="0.8" fill="#FF0000"/>
<rect x="459.7" y="321.7" width="6.9" height="13.0" rx="0.8" fill="#FF0000"/>
<rect x="459.7" y="335.8" width="6.9" height="11.8" rx="0.8" fill="#FBE5D6"/>
<rect x="475.2" y="321.7" width="6.5" height="6.1" rx="0.8" fill="#FBE5D6"/>
<rect x="475.2" y="328.6" width="6.5" height="6.1" rx="0.8" fill="#FF0000"/>
<rect x="504.1" y="322.1" width="5.7" height="5.7" rx="0.8" fill="#FFC000"/>
<rect x="504.1" y="328.6" width="5.7" height="4.9" rx="0.8" fill="#92D050"/>
<rect x="518.9" y="321.7" width="6.5" height="13.0" rx="0.8" fill="#FF0000"/>
<rect x="518.9" y="335.8" width="6.5" height="11.4" rx="0.8" fill="#FBE5D6"/>
<rect x="536.0" y="330.5" width="6.5" height="11.0" rx="0.8" fill="#FF0000"/>
<rect x="536.0" y="342.3" width="6.5" height="15.6" rx="0.8" fill="#FBE5D6"/>
<rect x="548.2" y="345.3" width="6.1" height="6.1" rx="0.8" fill="#FFC000"/>
<rect x="548.2" y="352.2" width="6.1" height="5.7" rx="0.8" fill="#92D050"/>
<rect x="577.8" y="344.6" width="6.1" height="6.4" rx="0.8" fill="#FF0000"/>
<rect x="577.8" y="351.4" width="6.1" height="6.5" rx="0.8" fill="#FBE5D6"/>
<rect x="589.1" y="326.7" width="6.9" height="14.4" rx="0.8" fill="#FFC000"/>
<rect x="589.1" y="342.3" width="6.9" height="14.8" rx="0.8" fill="#92D050"/>
<rect x="606.3" y="321.7" width="6.5" height="12.2" rx="0.8" fill="#FBE5D6"/>
<rect x="606.3" y="335.0" width="6.5" height="12.2" rx="0.8" fill="#FF0000"/>
<rect x="621.4" y="321.3" width="6.5" height="6.1" rx="0.8" fill="#FF0000"/>
<rect x="621.4" y="328.2" width="6.5" height="6.1" rx="0.8" fill="#FBE5D6"/>
<clipPath id="c3"><rect x="335.6" y="0" width="54.4" height="604"/><rect x="478.0" y="0" width="55.0" height="604"/></clipPath><path d="M261.80,358.20 C262.43,357.90 263.70,357.33 265.60,356.40 C267.50,355.47 270.67,354.25 273.20,352.60 C275.73,350.95 278.33,348.92 280.80,346.50 C283.27,344.08 286.03,340.13 288.00,338.10 C289.97,336.07 291.10,335.40 292.60,334.30 C294.10,333.20 295.23,332.52 297.00,331.50 C298.77,330.48 301.40,329.27 303.20,328.20 C305.00,327.13 306.33,325.97 307.80,325.10 C309.27,324.23 310.30,323.72 312.00,323.00 C313.70,322.28 315.73,321.27 318.00,320.80 C320.27,320.33 323.07,320.23 325.60,320.20 C328.13,320.17 330.67,320.15 333.20,320.60 C335.73,321.05 338.33,322.07 340.80,322.90 C343.27,323.73 345.53,324.50 348.00,325.60 C350.47,326.70 353.07,327.77 355.60,329.50 C358.13,331.23 360.67,333.83 363.20,336.00 C365.73,338.17 368.33,340.53 370.80,342.50 C373.27,344.47 375.53,346.18 378.00,347.80 C380.47,349.42 383.07,350.92 385.60,352.20 C388.13,353.48 390.80,354.70 393.20,355.50 C395.60,356.30 397.53,356.92 400.00,357.00 C402.47,357.08 405.40,356.73 408.00,356.00 C410.60,355.27 413.07,354.45 415.60,352.60 C418.13,350.75 420.67,347.70 423.20,344.90 C425.73,342.10 428.33,338.45 430.80,335.80 C433.27,333.15 435.63,330.67 438.00,329.00 C440.37,327.33 442.47,326.70 445.00,325.80 C447.53,324.90 450.82,324.22 453.20,323.60 C455.58,322.98 456.83,322.67 459.30,322.10 C461.77,321.53 464.02,320.27 468.00,320.20 C471.98,320.13 479.40,321.13 483.20,321.70 C487.00,322.27 488.33,322.83 490.80,323.60 C493.27,324.37 495.53,325.03 498.00,326.30 C500.47,327.57 503.07,329.37 505.60,331.20 C508.13,333.03 510.67,335.13 513.20,337.30 C515.73,339.47 518.33,342.17 520.80,344.20 C523.27,346.23 525.63,347.95 528.00,349.50 C530.37,351.05 532.50,352.33 535.00,353.50 C537.50,354.67 540.33,356.03 543.00,356.50 C545.67,356.97 548.50,356.70 551.00,356.30 C553.50,355.90 555.57,355.23 558.00,354.10 C560.43,352.97 563.07,352.17 565.60,349.50 C568.13,346.83 570.67,341.15 573.20,338.10 C575.73,335.05 578.33,332.98 580.80,331.20 C583.27,329.42 585.28,328.67 588.00,327.40 C590.72,326.13 594.57,324.48 597.10,323.60 C599.63,322.72 600.92,322.53 603.20,322.10 C605.48,321.67 608.63,321.25 610.80,321.00 C612.97,320.75 615.30,320.67 616.20,320.60 L616.20,320.80 C615.30,321.15 612.97,322.05 610.80,322.90 C608.63,323.75 605.48,324.77 603.20,325.90 C600.92,327.03 599.63,327.55 597.10,329.70 C594.57,331.85 590.72,336.27 588.00,338.80 C585.28,341.33 583.27,342.98 580.80,344.90 C578.33,346.82 575.73,348.70 573.20,350.30 C570.67,351.90 568.13,353.23 565.60,354.50 C563.07,355.77 560.43,357.22 558.00,357.90 C555.57,358.58 553.50,358.45 551.00,358.60 C548.50,358.75 545.67,358.95 543.00,358.80 C540.33,358.65 537.50,358.10 535.00,357.70 C532.50,357.30 530.37,357.25 528.00,356.40 C525.63,355.55 523.27,354.00 520.80,352.60 C518.33,351.20 515.73,349.78 513.20,348.00 C510.67,346.22 508.13,344.18 505.60,341.90 C503.07,339.62 500.47,336.47 498.00,334.30 C495.53,332.13 493.27,330.55 490.80,328.90 C488.33,327.25 487.00,325.60 483.20,324.40 C479.40,323.20 471.98,321.58 468.00,321.70 C464.02,321.82 461.77,323.90 459.30,325.10 C456.83,326.30 455.58,327.17 453.20,328.90 C450.82,330.63 447.53,333.40 445.00,335.50 C442.47,337.60 440.37,339.67 438.00,341.50 C435.63,343.33 433.27,344.75 430.80,346.50 C428.33,348.25 425.73,350.23 423.20,352.00 C420.67,353.77 418.13,356.05 415.60,357.10 C413.07,358.15 410.60,357.98 408.00,358.30 C405.40,358.62 402.47,358.95 400.00,359.00 C397.53,359.05 395.60,358.85 393.20,358.60 C390.80,358.35 388.13,358.02 385.60,357.50 C383.07,356.98 380.47,356.33 378.00,355.50 C375.53,354.67 373.27,353.75 370.80,352.50 C368.33,351.25 365.73,349.83 363.20,348.00 C360.67,346.17 358.13,344.30 355.60,341.50 C353.07,338.70 350.47,333.55 348.00,331.20 C345.53,328.85 343.27,328.78 340.80,327.40 C338.33,326.02 335.73,323.78 333.20,322.90 C330.67,322.02 328.13,321.98 325.60,322.10 C323.07,322.22 320.27,322.78 318.00,323.60 C315.73,324.42 313.70,325.93 312.00,327.00 C310.30,328.07 309.27,328.83 307.80,330.00 C306.33,331.17 305.00,332.17 303.20,334.00 C301.40,335.83 298.77,338.92 297.00,341.00 C295.23,343.08 294.10,344.83 292.60,346.50 C291.10,348.17 289.97,349.62 288.00,351.00 C286.03,352.38 283.27,353.78 280.80,354.80 C278.33,355.82 275.73,356.52 273.20,357.10 C270.67,357.68 267.50,358.08 265.60,358.30 C263.70,358.52 262.43,358.38 261.80,358.40Z" fill="#595959" stroke="#595959" stroke-width="0.6" clip-path="url(#c3)"/>
<clipPath id="c4"><rect x="377.0" y="0" width="47.7" height="604"/><rect x="523.2" y="0" width="58.6" height="604"/></clipPath><path d="M301.70,358.20 C303.08,357.67 307.28,356.70 310.00,355.00 C312.72,353.30 315.40,350.18 318.00,348.00 C320.60,345.82 323.07,344.32 325.60,341.90 C328.13,339.48 330.67,335.92 333.20,333.50 C335.73,331.08 338.33,328.92 340.80,327.40 C343.27,325.88 345.63,325.22 348.00,324.40 C350.37,323.58 351.83,323.22 355.00,322.50 C358.17,321.78 363.17,320.35 367.00,320.10 C370.83,319.85 374.90,320.53 378.00,321.00 C381.10,321.47 383.07,321.83 385.60,322.90 C388.13,323.97 390.67,325.63 393.20,327.40 C395.73,329.17 398.33,331.90 400.80,333.50 C403.27,335.10 405.53,335.47 408.00,337.00 C410.47,338.53 413.07,340.62 415.60,342.70 C418.13,344.78 420.67,347.48 423.20,349.50 C425.73,351.52 428.88,353.47 430.80,354.80 C432.72,356.13 432.33,357.17 434.70,357.50 C437.07,357.83 441.92,357.25 445.00,356.80 C448.08,356.35 450.57,355.88 453.20,354.80 C455.83,353.72 458.33,352.18 460.80,350.30 C463.27,348.42 465.53,345.92 468.00,343.50 C470.47,341.08 473.07,338.22 475.60,335.80 C478.13,333.38 480.67,330.90 483.20,329.00 C485.73,327.10 488.33,325.55 490.80,324.40 C493.27,323.25 495.63,322.70 498.00,322.10 C500.37,321.50 502.47,321.12 505.00,320.80 C507.53,320.48 510.70,320.20 513.20,320.20 C515.70,320.20 517.53,320.55 520.00,320.80 C522.47,321.05 525.40,321.10 528.00,321.70 C530.60,322.30 533.07,323.18 535.60,324.40 C538.13,325.62 540.67,327.23 543.20,329.00 C545.73,330.77 548.33,333.23 550.80,335.00 C553.27,336.77 555.53,337.57 558.00,339.60 C560.47,341.63 563.07,345.03 565.60,347.20 C568.13,349.37 570.67,351.07 573.20,352.60 C575.73,354.13 577.70,355.50 580.80,356.40 C583.90,357.30 588.07,358.52 591.80,358.00 C595.53,357.48 600.03,355.10 603.20,353.30 C606.37,351.50 608.33,349.67 610.80,347.20 C613.27,344.73 615.53,341.03 618.00,338.50 C620.47,335.97 623.07,334.10 625.60,332.00 C628.13,329.90 630.67,327.37 633.20,325.90 C635.73,324.43 638.25,323.90 640.80,323.20 C643.35,322.50 645.95,322.13 648.50,321.70 C651.05,321.27 654.20,320.78 656.10,320.60 C658.00,320.42 659.27,320.60 659.90,320.60 L659.90,320.80 C659.27,321.08 658.00,321.78 656.10,322.50 C654.20,323.22 651.05,324.03 648.50,325.10 C645.95,326.17 643.35,327.25 640.80,328.90 C638.25,330.55 635.73,332.45 633.20,335.00 C630.67,337.55 628.13,341.70 625.60,344.20 C623.07,346.70 620.47,348.35 618.00,350.00 C615.53,351.65 613.27,352.92 610.80,354.10 C608.33,355.28 606.37,356.20 603.20,357.10 C600.03,358.00 595.53,359.30 591.80,359.50 C588.07,359.70 583.90,358.63 580.80,358.30 C577.70,357.97 575.73,358.08 573.20,357.50 C570.67,356.92 568.13,356.00 565.60,354.80 C563.07,353.60 560.47,351.68 558.00,350.30 C555.53,348.92 553.27,348.42 550.80,346.50 C548.33,344.58 545.73,341.35 543.20,338.80 C540.67,336.25 538.13,333.35 535.60,331.20 C533.07,329.05 530.60,327.27 528.00,325.90 C525.40,324.53 522.47,323.70 520.00,323.00 C517.53,322.30 515.70,321.73 513.20,321.70 C510.70,321.67 507.53,322.23 505.00,322.80 C502.47,323.37 500.37,323.70 498.00,325.10 C495.63,326.50 493.27,328.53 490.80,331.20 C488.33,333.87 485.73,338.30 483.20,341.10 C480.67,343.90 478.13,346.02 475.60,348.00 C473.07,349.98 470.47,351.60 468.00,353.00 C465.53,354.40 463.27,355.58 460.80,356.40 C458.33,357.22 455.83,357.53 453.20,357.90 C450.57,358.27 448.08,358.45 445.00,358.60 C441.92,358.75 437.07,358.92 434.70,358.80 C432.33,358.68 432.72,358.30 430.80,357.90 C428.88,357.50 425.73,357.03 423.20,356.40 C420.67,355.77 418.13,355.12 415.60,354.10 C413.07,353.08 410.47,351.83 408.00,350.30 C405.53,348.77 403.27,347.32 400.80,344.90 C398.33,342.48 395.73,338.72 393.20,335.80 C390.67,332.88 388.13,329.55 385.60,327.40 C383.07,325.25 381.10,323.83 378.00,322.90 C374.90,321.97 370.83,321.43 367.00,321.80 C363.17,322.17 358.17,323.92 355.00,325.10 C351.83,326.28 350.37,326.98 348.00,328.90 C345.63,330.82 343.27,333.80 340.80,336.60 C338.33,339.40 335.73,343.30 333.20,345.70 C330.67,348.10 328.13,349.48 325.60,351.00 C323.07,352.52 320.60,353.67 318.00,354.80 C315.40,355.93 312.72,357.20 310.00,357.80 C307.28,358.40 303.08,358.30 301.70,358.40Z" fill="#A6A6A6" stroke="#A6A6A6" stroke-width="0.6" clip-path="url(#c4)"/>
<text x="16.5" y="64.2" font-size="24">SD</text>
<text x="115" y="65.3" font-size="23.3">GA<tspan font-size="16.5" dy="4">3</tspan></text>
<polygon points="67.40,47.50 71.18,52.31 75.90,47.70 75.73,53.53 82.90,51.70 78.63,56.51 85.80,57.90 78.93,60.16 83.90,64.40 76.60,63.33 77.90,68.90 72.52,65.06 69.90,70.40 67.91,64.92 62.00,68.40 64.00,62.76 56.70,62.90 62.29,59.15 56.20,55.90 63.31,55.61 60.00,50.50 66.60,53.13" fill="url(#sg)" stroke="#A8A290" stroke-width="0.9" stroke-linejoin="miter"/>
<line x1="88.6" y1="78.4" x2="107" y2="110.3" stroke="#000" stroke-width="1.5" marker-end="url(#ah)"/>
<line x1="134.7" y1="70.7" x2="134.7" y2="114" stroke="#000" stroke-width="1.5" marker-end="url(#ah)"/>
<ellipse cx="203.3" cy="114.6" rx="50" ry="16.6" fill="#ED7D31" stroke="#AE5A21" stroke-width="1"/>
<text x="168.6" y="119.2" font-size="17">GmGBP1</text>
<ellipse cx="137.4" cy="141.4" rx="55" ry="18.6" fill="url(#gg)" stroke="#4472C4" stroke-width="1.5"/>
<text x="90.8" y="147" font-size="17">GmGAMYB</text>
<text x="278.7" y="110.8" font-size="20">ATG</text>
<polyline points="274,155.5 274,121 326,121" fill="none" stroke="#2a2a2a" stroke-width="1.6" stroke-linejoin="round" marker-end="url(#ah)"/>
<line x1="119" y1="192.1" x2="143" y2="191.3" stroke="#000" stroke-width="2.9" stroke-linecap="round"/>
<text x="95.8" y="213.1" font-size="17">PBE-box</text>
<text class="i" x="211" y="220.5" font-size="19.7">GmSAUR</text>
<line x1="248.2" y1="232.3" x2="247.3" y2="283" stroke="#000" stroke-width="1.5" marker-end="url(#ah)"/>
<ellipse cx="250.7" cy="314.8" rx="65.5" ry="20.5" fill="#A9C4E8" stroke="#5B9BD5" stroke-width="1.2"/>
<text x="211" y="319.6" font-size="17">GmSAUR</text>
<text x="469.5" y="274.7" font-size="19.8">ATG</text>
<polyline points="463.4,321 463.4,284.6 516,284.6" fill="none" stroke="#1a1a1a" stroke-width="1.6" stroke-linejoin="round" marker-end="url(#ah)"/>
<line x1="307" y1="358" x2="331" y2="357" stroke="#000" stroke-width="2.9" stroke-linecap="round"/>
<text x="298.2" y="373.7" font-size="17">G-boxes</text>
<text class="i" x="435.8" y="383.7" font-size="19.75">GmGASA32</text>
<line x1="221.9" y1="350" x2="221.9" y2="398" stroke="#000" stroke-width="1.6" stroke-dasharray="5,4" marker-end="url(#ah)"/>
<polyline points="261.2,349 261.2,395.2" fill="none" stroke="#000" stroke-width="1.6" stroke-dasharray="5,4"/>
<line x1="246.7" y1="395.9" x2="280.5" y2="394.6" stroke="#000" stroke-width="1.6" stroke-dasharray="5,4"/>
<text class="i" x="158.7" y="422.8" font-size="19.7">GmFT2a</text>
<text class="i" x="245.7" y="422.3" font-size="19.7">GmFT4</text>
<text class="i" x="158.7" y="446" font-size="19.9">GmFDL19</text>
<line x1="219.6" y1="464" x2="219.6" y2="504" stroke="#000" stroke-width="1.3" marker-end="url(#ah)"/>
<line x1="265.5" y1="464" x2="265.5" y2="500.3" stroke="#000" stroke-width="1.3"/>
<line x1="253" y1="500.3" x2="279.2" y2="500.3" stroke="#000" stroke-width="1.3"/>
<line x1="479.6" y1="407.2" x2="479.6" y2="504.7" stroke="#000" stroke-width="1.3" marker-end="url(#ah)"/>
<text x="161.7" y="536.1" font-size="25.9">Early flowering</text>
<text x="411.9" y="536" font-size="25.7">Plant height</text>
</svg>
</body></html>
